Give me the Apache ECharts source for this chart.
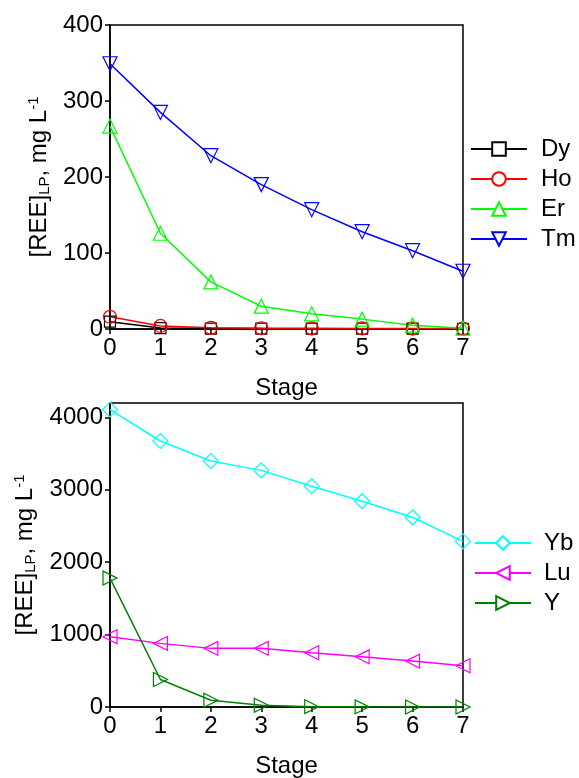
<!DOCTYPE html>
<html lang="en" style="height: 100%">
<head>
  <meta charset="utf-8">
</head>
<body style="height: 100%; margin: 0; background: #fff">
  <div id="container" style="width: 579px; height: 778px"></div>

  <script type="text/javascript" src="https://cdn.jsdelivr.net/npm/echarts@6/dist/echarts.min.js"></script>

  <script type="text/javascript">
    // stage numbers (x)
    const stages = [0, 1, 2, 3, 4, 5, 6, 7];

    // top panel, mg/L
    const dy = [9.6, 1.2, 0.6, 0.5, 0.5, 0.4, 0.4, 0.3];
    const ho = [16, 4, 1.5, 1, 0.8, 0.7, 0.6, 0.5];
    const er = [267, 126, 62, 30, 20, 13, 5, 1];
    const tm = [349, 285, 228, 190, 157, 128, 103, 76];
    const topTicks = [0, 100, 200, 300, 400];

    // bottom panel, mg/L
    const yb = [4110, 3675, 3398, 3269, 3051, 2843, 2621, 2288];
    const lu = [971, 879, 810, 810, 749, 693, 634, 569];
    const yy = [1781, 380, 93, 24, 5, 2, 1, 1];
    const bottomTicks = [0, 1000, 2000, 3000, 4000];

    const FONT = '"Liberation Sans", Arial, sans-serif';
    const FS = 24;

    function pairs(vals) {
      return stages.map((s, i) => [s, vals[i]]);
    }

    function mkSeries(name, vals, color, symbol, size, idx) {
      return {
        name: name,
        type: 'line',
        xAxisIndex: idx,
        yAxisIndex: idx,
        data: pairs(vals),
        symbol: symbol,
        symbolSize: size,
        showAllSymbol: true,
        color: color,
        lineStyle: { color: color, width: 1.5 },
        itemStyle: { color: 'rgba(255,255,255,0)', borderColor: color, borderWidth: 1.2 },
        emphasis: { disabled: true },
        animation: false,
        z: 3
      };
    }

    const triDown = 'path://M0,0L20,0L10,18Z';
    const triLeft = 'path://M18,0L18,20L0,10Z';
    const triRight = 'path://M0,0L0,20L18,10Z';

    const yName = '[REE]{sub|LP}, mg L{sup|-1}';
    const nameRich = {
      sub: { fontSize: 15, fontFamily: FONT, color: '#000', verticalAlign: 'bottom', padding: [11, 0, 0, 0] },
      sup: { fontSize: 15, fontFamily: FONT, color: '#000', verticalAlign: 'top', padding: [0, 0, 11, 0] }
    };

    function xAx(idx) {
      return {
        type: 'value',
        gridIndex: idx,
        min: 0,
        max: 7,
        interval: 1,
        name: 'Stage',
        nameLocation: 'middle',
        nameGap: 47,
        nameTextStyle: { fontSize: FS, fontFamily: FONT, color: '#000' },
        axisLine: { lineStyle: { color: '#000', width: 1.5 } },
        axisTick: { show: true, length: 5, lineStyle: { color: '#000', width: 1.5 } },
        axisLabel: { fontSize: FS, fontFamily: FONT, color: '#000', margin: 7 },
        splitLine: { show: false }
      };
    }

    function yAx(idx, max, ticks, gap) {
      return {
        type: 'value',
        gridIndex: idx,
        min: 0,
        max: max,
        interval: ticks[1] - ticks[0],
        name: yName,
        nameLocation: 'middle',
        nameGap: gap,
        nameTextStyle: { fontSize: FS, fontFamily: FONT, color: '#000', rich: nameRich },
        axisLine: { show: true, lineStyle: { color: '#000', width: 1.5 } },
        axisTick: { show: true, length: 5, customValues: ticks, lineStyle: { color: '#000', width: 1.5 } },
        axisLabel: {
          fontSize: FS, fontFamily: FONT, color: '#000', margin: 7, customValues: ticks,
          formatter: v => String(v)
        },
        splitLine: { show: false }
      };
    }

    function legendItems(names) {
      return names.map(n => ({ name: n, itemStyle: { color: '#fff' } }));
    }

    const dom = document.getElementById('container');
    const myChart = echarts.init(dom, null, { renderer: 'canvas' });

    const option = {
      backgroundColor: '#fff',
      animation: false,
      grid: [
        { left: 110, right: 116, top: 25, height: 304, show: true, borderColor: '#000', borderWidth: 1.5, outerBoundsMode: 'none' },
        { left: 110, right: 116, top: 403, height: 304, show: true, borderColor: '#000', borderWidth: 1.5, outerBoundsMode: 'none' }
      ],
      xAxis: [xAx(0), xAx(1)],
      yAxis: [yAx(0, 400, topTicks, 58), yAx(1, 4200, bottomTicks, 72)],
      legend: [
        {
          data: legendItems(['Dy', 'Ho', 'Er', 'Tm']),
          orient: 'vertical',
          left: 470,
          top: 137,
          padding: 0,
          itemWidth: 56,
          itemHeight: 17,
          itemGap: 6,
          selectedMode: false,
          textStyle: { fontSize: FS, fontFamily: FONT, color: '#000', lineHeight: 24, padding: [0, 0, 0, 9] }
        },
        {
          data: legendItems(['Yb', 'Lu', 'Y']),
          orient: 'vertical',
          left: 474,
          top: 531,
          padding: 0,
          itemWidth: 56,
          itemHeight: 17,
          itemGap: 6,
          selectedMode: false,
          textStyle: { fontSize: FS, fontFamily: FONT, color: '#000', lineHeight: 24, padding: [0, 0, 0, 8] }
        }
      ],
      series: [
        mkSeries('Dy', dy, '#000000', 'rect', 11, 0),
        mkSeries('Ho', ho, '#ff0000', 'circle', 13, 0),
        mkSeries('Er', er, '#00ff00', 'triangle', 14, 0),
        mkSeries('Tm', tm, '#0000ff', triDown, 14, 0),
        mkSeries('Yb', yb, '#00ffff', 'diamond', 15, 1),
        mkSeries('Lu', lu, '#ff00ff', triLeft, 14, 1),
        mkSeries('Y', yy, '#008000', triRight, 14, 1)
      ]
    };

    myChart.setOption(option);
    window.addEventListener('resize', myChart.resize);
  </script>
</body>
</html>
